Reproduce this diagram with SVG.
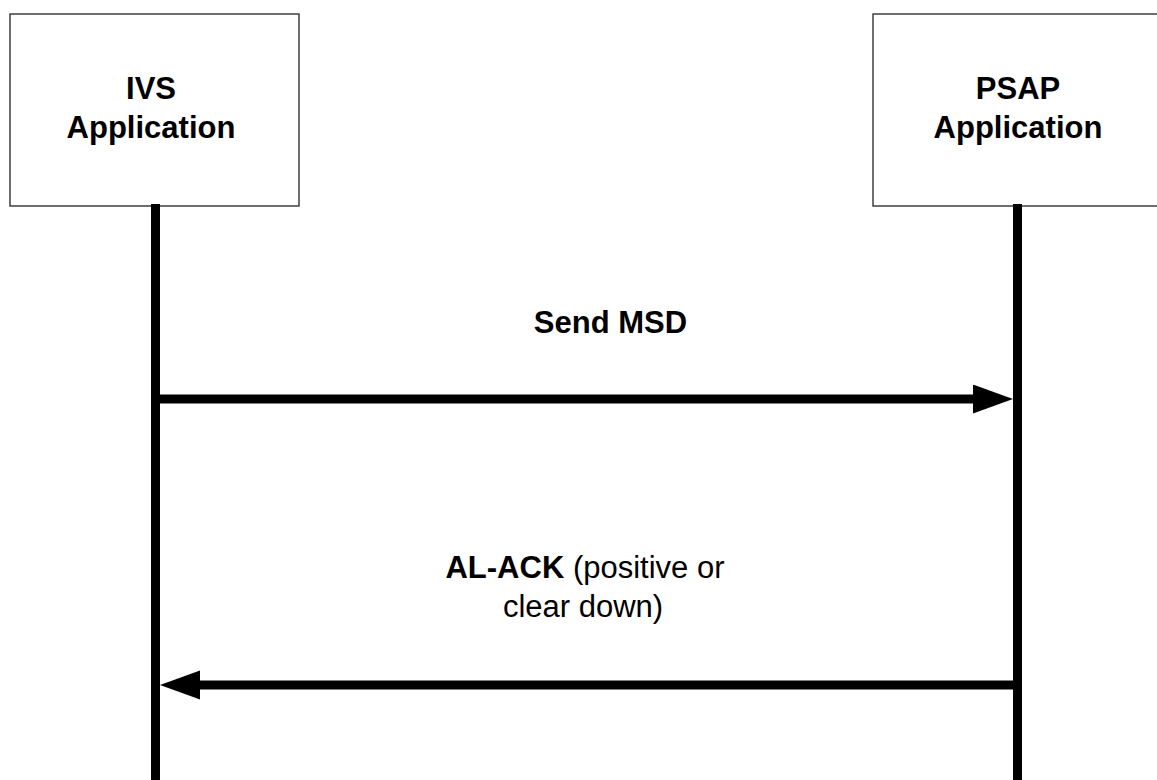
<svg xmlns="http://www.w3.org/2000/svg" width="1157" height="780" viewBox="0 0 1157 780">
  <style>
    .box { fill: #ffffff; stroke: #333333; stroke-width: 1.4; }
    .life { stroke: #000000; stroke-width: 9; fill: none; }
    .msg { stroke: #000000; stroke-width: 9; fill: none; marker-end: url(#head); }
    .lbl { font-family: "Liberation Sans", Arial, sans-serif; font-size: 31px; fill: #000000; text-anchor: middle; }
    .b { font-weight: bold; }
  </style>
  <defs>
    <marker id="head" markerUnits="userSpaceOnUse" markerWidth="42" markerHeight="30" refX="2" refY="14.5" orient="auto">
      <path d="M0,0 L40,14.5 L0,29 Z" fill="#000000"/>
    </marker>
  </defs>
  <rect width="1157" height="780" fill="#ffffff"/>

  <g id="ivs-application">
    <rect class="box" x="10" y="14" width="289" height="192"/>
    <text class="lbl b" x="151" y="99">IVS</text>
    <text class="lbl b" x="151" y="138">Application</text>
    <line class="life" x1="155.5" y1="204" x2="155.5" y2="780"/>
  </g>

  <g id="psap-application">
    <rect class="box" x="873" y="14" width="300" height="192"/>
    <text class="lbl b" x="1018" y="99">PSAP</text>
    <text class="lbl b" x="1018" y="138">Application</text>
    <line class="life" x1="1017.5" y1="204" x2="1017.5" y2="780"/>
  </g>

  <g id="connectors">
    <g id="send-msd">
      <line class="msg" x1="155" y1="399" x2="975" y2="399"/>
      <text class="lbl b" x="610.5" y="333">Send MSD</text>
    </g>
    <g id="al-ack">
      <line class="msg" x1="1017" y1="685" x2="198" y2="685"/>
      <text class="lbl" x="585" y="578"><tspan class="b">AL-ACK</tspan> (positive or</text>
      <text class="lbl" x="583" y="617">clear down)</text>
    </g>
  </g>
</svg>
